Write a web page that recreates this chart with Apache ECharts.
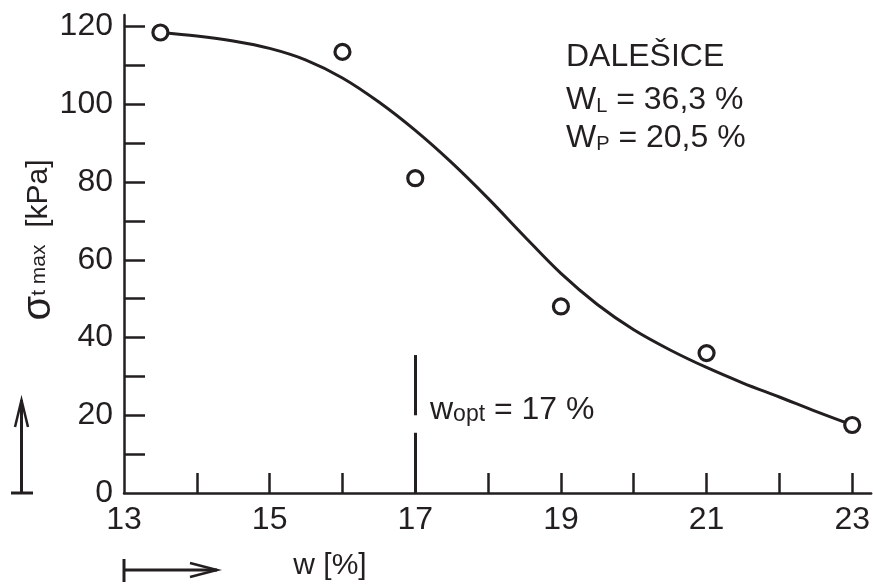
<!DOCTYPE html>
<html><head><meta charset="utf-8">
<script src="https://cdn.jsdelivr.net/npm/echarts@6/dist/echarts.min.js"></script>
<style>html,body{margin:0;padding:0;background:#fff}#c{width:873px;height:584px}</style>
</head><body><div id="c"></div>
<script>
// measured points
const measuredW = [13.5, 16, 17, 19, 21, 23];
const measuredSigma = [118.5, 113.5, 81, 48, 36, 17.5];
// fitted curve
const curveW = [13.5, 14, 14.5, 15, 15.5, 16, 16.5, 17, 17.5, 18, 18.5, 19, 19.5, 20, 20.5, 21, 21.5, 22, 22.5, 23];
const curveSigma = [118.5, 117.6, 116.3, 114.4, 111.4, 106.8, 100.6, 93.3, 85, 75.8, 66, 56.5, 48.5, 42, 36.8, 32.3, 28.3, 24.7, 21, 17.5];
// axes
const xTickValues = [14, 15, 16, 17, 18, 19, 20, 21, 22, 23];
const xLabelValues = [13, 15, 17, 19, 21, 23];
const yTickValues = [10, 20, 30, 40, 50, 60, 70, 80, 90, 100, 110, 120];
const yLabelValues = [0, 20, 40, 60, 80, 100, 120];
// optimum water content marker
const wOpt = 17;
const wOptLower = [0, 15.5];
const wOptUpper = [20, 35.5];
const titleText = 'DALEŠICE';
const wlText = ['W', 'L', ' = 36,3 %'];
const wpText = ['W', 'P', ' = 20,5 %'];
const woptText = ['w', 'opt', ' = 17 %'];

const C = '#231f20';
const F = 'Liberation Sans, Arial, sans-serif';
const chart = echarts.init(document.getElementById('c'), null, {renderer: 'canvas'});

function zip(a, b) { return a.map((v, i) => [v, b[i]]); }

const option = {
  backgroundColor: '#fff',
  animation: false,
  grid: {left: 124, right: 0, top: 15, bottom: 91, containLabel: false},
  xAxis: {
    type: 'value', min: 13, max: 23.26,
    axisLine: {show: true, onZero: false, lineStyle: {color: C, width: 2.5}},
    axisTick: {show: true, inside: true, length: 20, customValues: xTickValues, lineStyle: {color: C, width: 2.5}},
    axisLabel: {customValues: xLabelValues, fontSize: 32, fontFamily: F, color: C, margin: 11},
    splitLine: {show: false}
  },
  yAxis: {
    type: 'value', min: 0, max: 123,
    axisLine: {show: true, onZero: false, lineStyle: {color: C, width: 2.5}},
    axisTick: {show: true, inside: true, length: 21, customValues: yTickValues, lineStyle: {color: C, width: 2.5}},
    axisLabel: {customValues: yLabelValues, fontSize: 32, fontFamily: F, color: C, margin: 11},
    splitLine: {show: false}
  },
  series: [
    {
      type: 'line', data: zip(curveW, curveSigma), smooth: 0.35,
      showSymbol: false, symbol: 'none', lineStyle: {color: C, width: 3, opacity: 1}, z: 2,
      markLine: {
        silent: true, symbol: 'none', label: {show: false},
        lineStyle: {color: C, width: 3, type: 'solid', opacity: 1},
        data: [
          [{coord: [wOpt, wOptLower[0]]}, {coord: [wOpt, wOptLower[1]]}],
          [{coord: [wOpt, wOptUpper[0]]}, {coord: [wOpt, wOptUpper[1]]}]
        ]
      }
    },
    {
      type: 'scatter', data: zip(measuredW, measuredSigma), symbol: 'circle', symbolSize: 15,
      itemStyle: {color: '#fff', borderColor: C, borderWidth: 3.2, opacity: 1}, z: 5
    }
  ],
  graphic: [
    // y-axis name
    {type: 'text', x: 39, y: 240, rotation: Math.PI / 2,
      style: {text: '{s|σ}{sub|t max}{n|  [kPa]}', align: 'center', verticalAlign: 'middle', fill: C,
        rich: {s: {fontSize: 40, fontFamily: F, fill: C}, sub: {fontSize: 21, fontFamily: F, fill: C}, n: {fontSize: 30, fontFamily: F, fill: C}}}},
    // x-axis name
    {type: 'text', x: 330, y: 566, style: {text: 'w [%]', fontSize: 30, fontFamily: F, fill: C, align: 'center', verticalAlign: 'middle'}},
    // y arrow
    {type: 'polyline', shape: {points: [[21.5, 493], [21.5, 400]]}, style: {stroke: C, lineWidth: 3, fill: null}},
    {type: 'polyline', shape: {points: [[15, 427], [21.5, 400], [28, 427]]}, style: {stroke: C, lineWidth: 2.5, fill: null}},
    {type: 'polyline', shape: {points: [[11, 493], [33, 493]]}, style: {stroke: C, lineWidth: 3, fill: null}},
    // x arrow
    {type: 'polyline', shape: {points: [[124, 570], [217, 570]]}, style: {stroke: C, lineWidth: 3, fill: null}},
    {type: 'polyline', shape: {points: [[190, 563], [217, 570], [190, 577]]}, style: {stroke: C, lineWidth: 2.5, fill: null}},
    {type: 'polyline', shape: {points: [[124, 559], [124, 582]]}, style: {stroke: C, lineWidth: 3, fill: null}},
    // annotations
    {type: 'text', x: 566, y: 57, style: {text: titleText, fontSize: 32, fontFamily: F, fill: C, align: 'left', verticalAlign: 'middle'}},
    {type: 'text', x: 566, y: 100, style: {text: '{a|' + wlText[0] + '}{b|' + wlText[1] + '}{a|' + wlText[2] + '}', align: 'left', verticalAlign: 'middle',
      rich: {a: {fontSize: 32, lineHeight: 32, fontFamily: F, fill: C, verticalAlign: 'bottom'}, b: {fontSize: 20, lineHeight: 20, fontFamily: F, fill: C, verticalAlign: 'bottom'}}}},
    {type: 'text', x: 566, y: 138, style: {text: '{a|' + wpText[0] + '}{b|' + wpText[1] + '}{a|' + wpText[2] + '}', align: 'left', verticalAlign: 'middle',
      rich: {a: {fontSize: 32, lineHeight: 32, fontFamily: F, fill: C, verticalAlign: 'bottom'}, b: {fontSize: 20, lineHeight: 20, fontFamily: F, fill: C, verticalAlign: 'bottom'}}}},
    {type: 'text', x: 430, y: 410, style: {text: '{a|' + woptText[0] + '}{b|' + woptText[1] + '}{a|' + woptText[2] + '}', align: 'left', verticalAlign: 'middle',
      rich: {a: {fontSize: 32, lineHeight: 32, fontFamily: F, fill: C, verticalAlign: 'bottom'}, b: {fontSize: 23, lineHeight: 22, fontFamily: F, fill: C, verticalAlign: 'bottom'}}}}
  ]
};
chart.setOption(option);
</script>
</body></html>
